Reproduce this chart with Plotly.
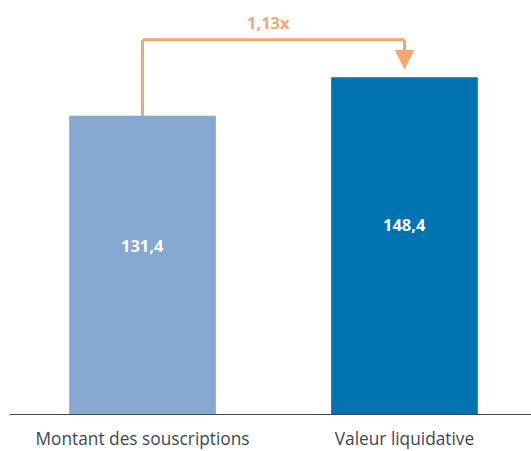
import plotly.graph_objects as go

categories = ["Montant des souscriptions", "Valeur liquidative"]
values = [131.4, 148.4]
value_labels = ["131,4", "148,4"]
ratio_label = "1,13x"

bar_colors = ["#87a8d0", "#0073b0"]
orange = "#f5a673"
font = "Open Sans"

fig = go.Figure()
fig.add_trace(go.Bar(
    x=[0, 1],
    y=values,
    width=0.56,
    marker=dict(color=bar_colors, line=dict(width=0)),
    hoverinfo="skip",
))

# value labels sit a bit above the middle of each bar
for i, (v, lab) in enumerate(zip(values, value_labels)):
    fig.add_annotation(x=i, y=v * 0.565, xref="x", yref="y", text=lab, showarrow=False,
                       font=dict(family=font, size=16.5, color="white", weight="bold"))

# connector: up from bar 1, across, arrow down onto bar 2
y_top = 164.8
fig.add_shape(type="line", xref="x", yref="y", x0=0, x1=0, y0=values[0], y1=y_top,
              line=dict(color=orange, width=3))
fig.add_shape(type="line", xref="x", yref="y", x0=0, x1=1, y0=y_top, y1=y_top,
              line=dict(color=orange, width=3))
fig.add_annotation(x=1, y=151.8, ax=1, ay=y_top + 0.6, xref="x", yref="y", axref="x", ayref="y",
                   text="", showarrow=True, arrowhead=2, arrowsize=1.3, arrowwidth=3,
                   arrowcolor=orange)
fig.add_annotation(x=0.48, y=172.5, xref="x", yref="y", text=ratio_label, showarrow=False,
                   font=dict(family=font, size=16.5, color=orange, weight="bold"))

# baseline
fig.add_shape(type="line", xref="paper", yref="y", x0=0, x1=1, y0=0, y1=0,
              line=dict(color="#3d4852", width=2))

fig.update_layout(
    width=531, height=451,
    margin=dict(l=10, r=0, t=0, b=36),
    plot_bgcolor="white", paper_bgcolor="white",
    showlegend=False,
    xaxis=dict(range=[-0.506, 1.483], tickmode="array", tickvals=[0, 1], ticktext=categories,
               showgrid=False, zeroline=False, showline=False, ticks="", ticklabelstandoff=12,
               tickfont=dict(family=font, size=17.3, color="#3d4852")),
    yaxis=dict(range=[0, 182.3], visible=False, showgrid=False, zeroline=False),
)

fig.write_html("out.html", config={"displayModeBar": False},
               post_script="document.body.style.margin='0';")
